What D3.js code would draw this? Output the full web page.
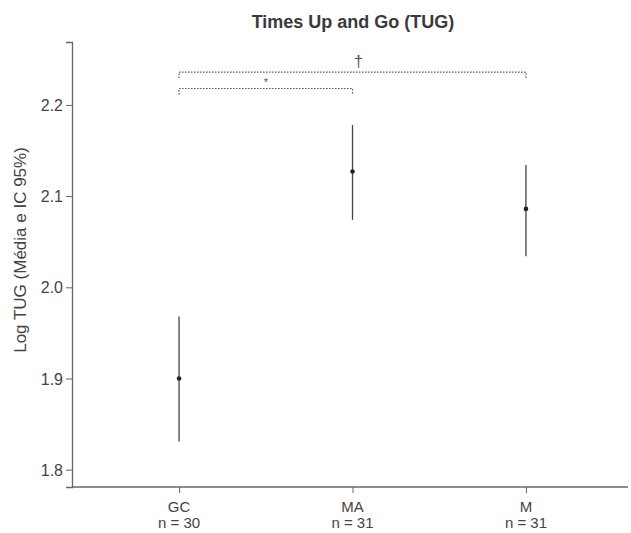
<!DOCTYPE html>
<html>
<head>
<meta charset="utf-8">
<script src="https://cdn.jsdelivr.net/npm/d3@7"></script>
<style>
  body { margin: 0; background: #fff; }
  text { font-family: "Liberation Sans", Arial, sans-serif; }
</style>
</head>
<body>
<div id="chart"></div>
<script>
var width = 631,
    height = 533;
var margin = { top: 42, right: 3, bottom: 46, left: 72 };

// data
var groups = ["GC", "MA", "M"];
var nLabels = ["n = 30", "n = 31", "n = 31"];
var means = [1.900, 2.127, 2.086];
var lower = [1.831, 2.074, 2.034];
var upper = [1.968, 2.178, 2.134];
var yTicks = [1.8, 1.9, 2.0, 2.1, 2.2];
// significance brackets: [from, to, label]
var brackets = [["GC", "M", "\u2020"], ["GC", "MA", "*"]];
var bracketLevel = [2.236, 2.218];

var svg = d3.select("#chart").append("svg")
    .attr("width", width)
    .attr("height", height);

var x = d3.scalePoint()
    .domain(groups)
    .range([75, 630])
    .padding(0.6);

var y = d3.scaleLinear()
    .domain([1.781, 2.269])
    .range([height - margin.bottom, margin.top]);

// title
svg.append("text")
    .attr("x", 353)
    .attr("y", 28)
    .attr("text-anchor", "middle")
    .style("font-size", "18px")
    .style("font-weight", "bold")
    .style("fill", "#3a3a3a")
    .text("Times Up and Go (TUG)");

// y axis
var yAxis = svg.append("g")
    .attr("transform", "translate(" + margin.left + ",0)")
    .call(d3.axisLeft(y).tickValues(yTicks).tickFormat(d3.format(".1f")).tickSizeOuter(0).tickSize(6));

// x axis
var xAxis = svg.append("g")
    .attr("transform", "translate(0," + (height - margin.bottom) + ")")
    .call(d3.axisBottom(x).tickSizeOuter(0).tickSize(6).tickFormat(""));
xAxis.select(".domain").remove();
xAxis.append("line")
    .attr("x1", margin.left)
    .attr("x2", width - margin.right)
    .attr("stroke", "#666")
    .attr("stroke-width", 1.3);

[yAxis, xAxis].forEach(function (g) {
    g.select(".domain").attr("stroke", "#666").attr("stroke-width", 1.3);
    g.selectAll(".tick line").attr("stroke", "#666");
    g.selectAll(".tick text").style("font-size", "16px").style("fill", "#444")
        .style("font-family", "'Liberation Sans', Arial, sans-serif");
});
yAxis.selectAll(".tick text").attr("x", -9).attr("dy", "0.35em");

// x labels, two lines
groups.forEach(function (g, i) {
    var t = svg.append("text")
        .attr("x", x(g))
        .attr("y", height - margin.bottom + 25)
        .attr("text-anchor", "middle")
        .style("font-size", "15px")
        .style("fill", "#444");
    t.append("tspan").attr("x", x(g)).text(g);
    t.append("tspan").attr("x", x(g)).attr("dy", 16).text(nLabels[i]);
});

// y label
svg.append("text")
    .attr("transform", "translate(26,250) rotate(-90)")
    .attr("text-anchor", "middle")
    .style("font-size", "17px")
    .style("fill", "#444")
    .text("Log TUG (Média e IC 95%)");

// error bars
svg.selectAll("line.ci")
    .data(groups)
    .join("line")
    .attr("class", "ci")
    .attr("x1", function (d) { return x(d); })
    .attr("x2", function (d) { return x(d); })
    .attr("y1", function (d, i) { return y(lower[i]); })
    .attr("y2", function (d, i) { return y(upper[i]); })
    .attr("stroke", "#444")
    .attr("stroke-width", 1.3);

svg.selectAll("circle.mean")
    .data(groups)
    .join("circle")
    .attr("class", "mean")
    .attr("cx", function (d) { return x(d); })
    .attr("cy", function (d, i) { return y(means[i]); })
    .attr("r", 2.3)
    .attr("fill", "#222");

// brackets
brackets.forEach(function (b, i) {
    var yy = y(bracketLevel[i]);
    var x1 = x(b[0]), x2 = x(b[1]);
    svg.append("path")
        .attr("d", "M" + x1 + "," + (yy + 6) + "V" + yy + "H" + x2 + "V" + (yy + 6))
        .attr("fill", "none")
        .attr("stroke", "#555")
        .attr("stroke-width", 1.2)
        .attr("stroke-dasharray", "1.5,1.5");
    var dagger = b[2] !== "*";
    svg.append("text")
        .attr("x", (x1 + x2) / 2 + (dagger ? 6 : 0))
        .attr("y", yy - (dagger ? 5 : 3))
        .attr("text-anchor", "middle")
        .style("font-size", dagger ? "17px" : "11px")
        .style("fill", "#555")
        .text(b[2]);
});
</script>
</body>
</html>
